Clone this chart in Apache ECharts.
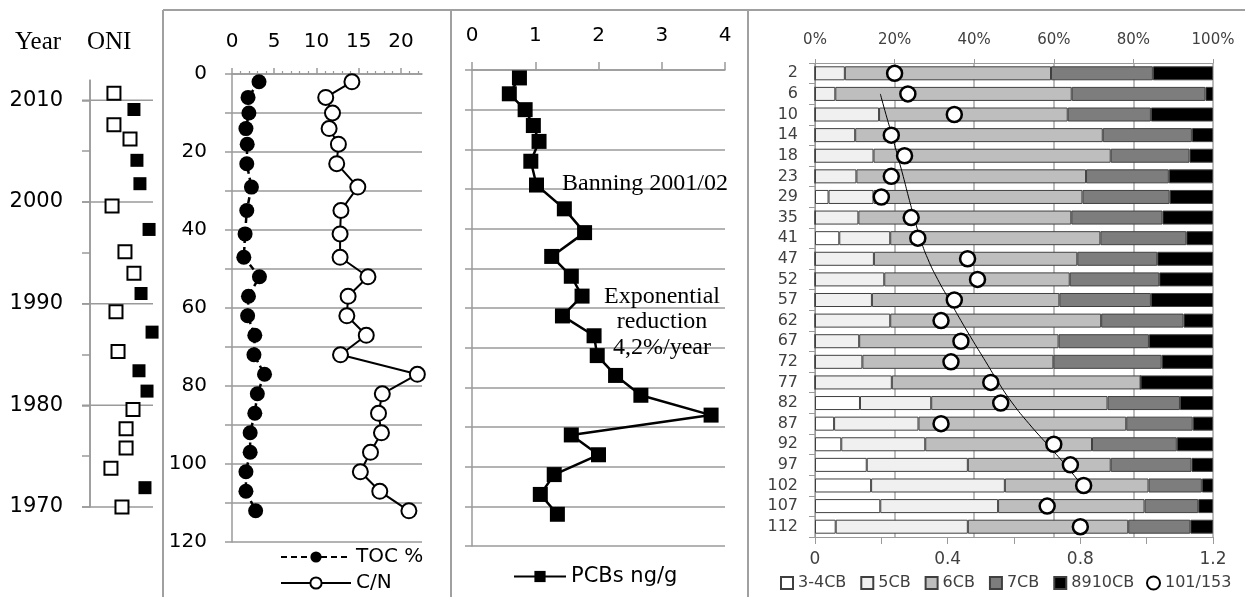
<!DOCTYPE html>
<html><head><meta charset="utf-8">
<script src="https://cdn.jsdelivr.net/npm/echarts@6/dist/echarts.min.js"></script>
<style>html,body{margin:0;padding:0;background:#fff}#c{width:1245px;height:597px}</style>
</head><body><div id="c"></div>
<script>
// ---------- DATA ----------
// ONI panel (year vs index position)
const oniOpenYears   = [2010.7, 2007.6, 2006.2, 1999.6, 1995.1, 1993.0, 1989.2, 1985.3, 1979.6, 1977.7, 1975.8, 1973.8, 1970.0];
const oniOpenValues  = [-0.48, -0.48, 0.54, -0.60, 0.22, 0.79, -0.35, -0.22, 0.73, 0.29, 0.29, -0.67, 0.03];
const oniFilledYears = [2009.1, 2004.1, 2001.8, 1997.3, 1991.0, 1987.2, 1983.4, 1981.4, 1971.9];
const oniFilledValues= [0.79, 0.98, 1.17, 1.75, 1.24, 1.94, 1.11, 1.62, 1.49];
const yearMajor = [1970, 1980, 1990, 2000, 2010];
const yearMinorTicks = [1970, 1975, 1980, 1985, 1990, 1995, 2000, 2005, 2010];

// Depth profiles (cm)
const depths = [2, 6, 10, 14, 18, 23, 29, 35, 41, 47, 52, 57, 62, 67, 72, 77, 82, 87, 92, 97, 102, 107, 112];
const tocPct = [3.2, 1.9, 2.0, 1.65, 1.8, 1.75, 2.3, 1.75, 1.55, 1.4, 3.25, 1.95, 1.85, 2.7, 2.6, 3.85, 3.0, 2.7, 2.15, 2.15, 1.65, 1.65, 2.8];
const cnRatio = [14.2, 11.1, 11.9, 11.5, 12.6, 12.4, 14.9, 12.9, 12.8, 12.8, 16.1, 13.75, 13.6, 15.9, 12.85, 21.95, 17.8, 17.35, 17.7, 16.4, 15.2, 17.5, 20.95];
const pcbNg = [0.75, 0.59, 0.84, 0.97, 1.06, 0.93, 1.02, 1.46, 1.78, 1.26, 1.57, 1.74, 1.43, 1.93, 1.98, 2.27, 2.67, 3.78, 1.57, 2.0, 1.3, 1.08, 1.35];
const depthTicks = [0, 10, 20, 30, 40, 50, 60, 70, 80, 90, 100, 110, 120];
const tocAxisLabels = [0, 5, 10, 15, 20];

// Congener composition (% of total) per depth
const barCats = ['2','6','10','14','18','23','29','35','41','47','52','57','62','67','72','77','82','87','92','97','102','107','112'];
const cb34   = [0, 0, 0, 0, 0, 0, 3.4, 0, 6.1, 0, 0, 0, 0, 0, 0, 0, 11.3, 4.8, 6.6, 13.0, 14.1, 16.4, 5.2];
const cb5    = [7.5, 5.1, 16.1, 10.1, 14.7, 10.4, 11.3, 10.9, 12.8, 14.8, 17.4, 14.3, 18.9, 11.1, 11.9, 19.3, 17.9, 21.2, 21.1, 25.4, 33.6, 29.6, 33.2];
const cb6    = [51.8, 59.4, 47.4, 62.2, 59.6, 57.7, 52.5, 53.5, 52.8, 51.1, 46.6, 47.1, 53.0, 50.1, 48.0, 62.5, 44.3, 52.2, 41.9, 35.9, 36.1, 36.8, 40.3];
const cb7    = [25.6, 33.6, 20.9, 22.4, 19.8, 20.8, 21.9, 22.9, 21.6, 20.1, 22.5, 23.0, 20.7, 22.7, 27.2, 0, 18.2, 16.7, 21.3, 20.3, 13.4, 13.5, 15.6];
const cb8910 = [15.1, 1.9, 15.6, 5.3, 5.9, 11.1, 10.9, 12.7, 6.7, 14.0, 13.5, 15.6, 7.4, 16.1, 12.9, 18.2, 8.3, 5.1, 9.1, 5.4, 2.8, 3.7, 5.7];
const ratio101_153 = [0.24, 0.28, 0.42, 0.23, 0.27, 0.23, 0.20, 0.29, 0.31, 0.46, 0.49, 0.42, 0.38, 0.44, 0.41, 0.53, 0.56, 0.38, 0.72, 0.77, 0.81, 0.70, 0.80];
// trend line (categories 6 .. 102)
const trendCats = ['6','10','14','18','23','29','35','41','47','52','57','62','67','72','77','82','87','92','97','102'];
const trendValues = [0.197, 0.214, 0.232, 0.249, 0.266, 0.282, 0.299, 0.317, 0.340, 0.370, 0.405, 0.440, 0.477, 0.515, 0.553, 0.595, 0.645, 0.700, 0.755, 0.805];
const ratioTicks = [0, 0.2, 0.4, 0.6, 0.8, 1, 1.2];

// ---------- STYLE ----------
const SANS = 'DejaVu Sans';
const GC = '#9a9a9a';
const ONI_GRID = { left: 90, top: 80, width: 63, height: 427 };
const YEAR_MIN = 1970, YEAR_MAX = 2012;
const line = (w) => ({ color: GC, width: w || 1.5 });
const zip = (a, b) => a.map((v, i) => [v, b[i]]);
const txt = (s, x, y, font, align) => ({ type: 'text', x: x, y: y, z: 50,
  style: { text: s, font: font, fill: '#000', align: align, verticalAlign: 'middle', textAlign: align, textVerticalAlign: 'middle' } });
const gline = (x1, y1, x2, y2, c, w) => ({ type: 'line', z: 20, silent: true,
  shape: { x1: x1, y1: y1, x2: x2, y2: y2 }, style: { stroke: c, lineWidth: w } });

const chart = echarts.init(document.getElementById('c'), null, { renderer: 'canvas' });
chart.setOption({
  animation: false,
  backgroundColor: '#fff',
  textStyle: { fontFamily: SANS },
  grid: [
    Object.assign({ outerBoundsMode: 'none' }, ONI_GRID),
    { left: 232, top: 74, width: 190, height: 468, outerBoundsMode: 'none' },
    { left: 472, top: 70, width: 253, height: 476, outerBoundsMode: 'none' },
    { left: 815, top: 63, width: 398, height: 474, outerBoundsMode: 'none' }
  ],
  xAxis: [
    { gridIndex: 0, type: 'value', min: -2, max: 2, show: false },
    { gridIndex: 1, type: 'value', position: 'top', min: 0, max: 22.5, interval: 5,
      axisLine: { show: true, onZero: false, lineStyle: line() },
      axisTick: { show: true, inside: false, length: 6, customValues: tocAxisLabels, lineStyle: line() },
      minorTick: { show: true, splitNumber: 5, length: 3, lineStyle: line(1.2) },
      axisLabel: { customValues: tocAxisLabels, margin: 22, fontFamily: SANS, fontSize: 20, color: '#000' },
      splitLine: { show: false } },
    { gridIndex: 2, type: 'value', position: 'top', min: 0, max: 4, interval: 1,
      axisLine: { show: true, onZero: false, lineStyle: line() },
      axisTick: { show: true, inside: false, length: 8, lineStyle: line() },
      axisLabel: { margin: 24, fontFamily: SANS, fontSize: 20, color: '#000' },
      splitLine: { show: false } },
    { gridIndex: 3, type: 'value', position: 'top', min: 0, max: 100, interval: 20,
      axisLine: { show: true, onZero: false, lineStyle: line(1) },
      axisTick: { show: true, length: 4, lineStyle: line(1) },
      axisLabel: { formatter: '{value}%', margin: 15, fontFamily: SANS, fontSize: 15, color: '#404040' },
      splitLine: { show: true, lineStyle: { color: '#a6a6a6', width: 1.5 } } },
    { gridIndex: 3, type: 'value', position: 'bottom', min: 0, max: 1.2, interval: 0.4,
      axisLine: { show: true, onZero: false, lineStyle: line(1) },
      axisTick: { show: true, length: 7, customValues: ratioTicks, lineStyle: line(1) },
      axisLabel: { margin: 14, fontFamily: SANS, fontSize: 17, color: '#404040' },
      splitLine: { show: false } }
  ],
  yAxis: [
    { gridIndex: 0, type: 'value', min: YEAR_MIN, max: YEAR_MAX, interval: 10,
      axisLine: { show: true, onZero: false, lineStyle: line() },
      axisTick: { show: true, length: 8, customValues: yearMinorTicks, lineStyle: line() },
      axisLabel: { formatter: (v) => (v % 10 === 0 ? String(v) : ''), margin: 27, fontFamily: SANS, fontSize: 21, color: '#000' },
      splitLine: { show: false } },
    { gridIndex: 1, type: 'value', inverse: true, min: 0, max: 120, interval: 20,
      axisLine: { show: true, onZero: false, lineStyle: line() },
      axisTick: { show: true, length: 7, customValues: depthTicks, lineStyle: line() },
      axisLabel: { margin: 25, fontFamily: SANS, fontSize: 20, color: '#000' },
      splitLine: { show: true, lineStyle: line() } },
    { gridIndex: 2, type: 'value', inverse: true, min: 0, max: 120, interval: 20,
      axisLine: { show: true, onZero: false, lineStyle: line() },
      axisTick: { show: true, length: 7, customValues: depthTicks, lineStyle: line() },
      axisLabel: { show: false },
      splitLine: { show: true, lineStyle: line() } },
    { gridIndex: 3, type: 'category', data: barCats, inverse: true,
      axisLine: { show: true, onZero: false, lineStyle: line(1) },
      axisTick: { show: true, length: 6, lineStyle: line(1) },
      axisLabel: { interval: 0, margin: 17, fontFamily: SANS, fontSize: 16, color: '#404040' },
      splitLine: { show: false } }
  ],
  legend: [
    { data: ['TOC %', 'C/N'], orient: 'vertical', left: 280, top: 547, padding: 0, itemWidth: 70, itemHeight: 14, itemGap: 6,
      selectedMode: false, textStyle: { fontFamily: SANS, fontSize: 20, color: '#000' } },
    { data: ['PCBs ng/g'], left: 513, top: 566, padding: 0, itemWidth: 52, itemHeight: 14, selectedMode: false,
      textStyle: { fontFamily: SANS, fontSize: 21, color: '#000' } },
    { data: ['3-4CB', '5CB', '6CB', '7CB', '8910CB'], left: 780, top: 575, padding: 0, itemWidth: 12, itemHeight: 12, itemGap: 14,
      icon: 'rect', selectedMode: false, textStyle: { fontFamily: SANS, fontSize: 16, color: '#404040' } },
    { data: ['101/153'], left: 1146, top: 575, padding: 0, itemWidth: 13, itemHeight: 13, icon: 'circle', selectedMode: false,
      textStyle: { fontFamily: SANS, fontSize: 16, color: '#404040' } }
  ],
  series: [
    { type: 'scatter', xAxisIndex: 0, yAxisIndex: 0, symbol: 'rect', symbolSize: 13, z: 30,
      data: zip(oniOpenValues, oniOpenYears),
      itemStyle: { color: '#fff', borderColor: '#000', borderWidth: 2, opacity: 1 } },
    { type: 'scatter', xAxisIndex: 0, yAxisIndex: 0, symbol: 'rect', symbolSize: 13, z: 30,
      data: zip(oniFilledValues, oniFilledYears),
      itemStyle: { color: '#000', borderColor: '#000', borderWidth: 0, opacity: 1 } },
    { name: 'TOC %', type: 'line', xAxisIndex: 1, yAxisIndex: 1, data: zip(tocPct, depths),
      symbol: 'circle', symbolSize: 15, showAllSymbol: true,
      itemStyle: { color: '#000', borderColor: '#000', borderWidth: 0, opacity: 1 },
      lineStyle: { color: '#000', width: 2.5, type: [6, 4] } },
    { name: 'C/N', type: 'line', xAxisIndex: 1, yAxisIndex: 1, data: zip(cnRatio, depths),
      symbol: 'circle', symbolSize: 15, showAllSymbol: true,
      itemStyle: { color: '#fff', borderColor: '#000', borderWidth: 2, opacity: 1 },
      lineStyle: { color: '#000', width: 2 } },
    { name: 'PCBs ng/g', type: 'line', xAxisIndex: 2, yAxisIndex: 2, data: zip(pcbNg, depths),
      symbol: 'rect', symbolSize: 15, showAllSymbol: true,
      itemStyle: { color: '#000', borderColor: '#000', borderWidth: 0, opacity: 1 },
      lineStyle: { color: '#000', width: 2.5 } },
    { name: '3-4CB', type: 'bar', stack: 'pct', xAxisIndex: 3, yAxisIndex: 3, barCategoryGap: '32%', data: cb34, z: 2,
      itemStyle: { color: '#ffffff', borderColor: '#404040', borderWidth: 1 } },
    { name: '5CB', type: 'bar', stack: 'pct', xAxisIndex: 3, yAxisIndex: 3, barCategoryGap: '32%', data: cb5, z: 2,
      itemStyle: { color: '#f0f0f0', borderColor: '#404040', borderWidth: 1 } },
    { name: '6CB', type: 'bar', stack: 'pct', xAxisIndex: 3, yAxisIndex: 3, barCategoryGap: '32%', data: cb6, z: 2,
      itemStyle: { color: '#bebebe', borderColor: '#404040', borderWidth: 1 } },
    { name: '7CB', type: 'bar', stack: 'pct', xAxisIndex: 3, yAxisIndex: 3, barCategoryGap: '32%', data: cb7, z: 2,
      itemStyle: { color: '#7d7d7d', borderColor: '#404040', borderWidth: 1 } },
    { name: '8910CB', type: 'bar', stack: 'pct', xAxisIndex: 3, yAxisIndex: 3, barCategoryGap: '32%', data: cb8910, z: 2,
      itemStyle: { color: '#000000', borderColor: '#404040', borderWidth: 1 } },
    { type: 'line', xAxisIndex: 4, yAxisIndex: 3, data: zip(trendValues, trendCats), symbol: 'none', smooth: true, z: 3,
      lineStyle: { color: '#000', width: 1 } },
    { name: '101/153', type: 'scatter', xAxisIndex: 4, yAxisIndex: 3, data: zip(ratio101_153, barCats),
      symbol: 'circle', symbolSize: 15, z: 4,
      itemStyle: { color: '#fff', borderColor: '#000', borderWidth: 2.5, opacity: 1 } }
  ]
});

// ONI year-axis guide lines (grid lines + axis line) through the year axis scale
const yearPx = (yr) => {
  let p;
  try { p = chart.convertToPixel({ yAxisIndex: 0 }, yr); } catch (e) { p = NaN; }
  if (Array.isArray(p)) p = p[1];
  const fallback = ONI_GRID.top + (YEAR_MAX - yr) / (YEAR_MAX - YEAR_MIN) * ONI_GRID.height;
  if (!isFinite(p) || Math.abs(p - fallback) > 3) p = fallback;
  return p;
};
const gx0 = ONI_GRID.left, gx1 = ONI_GRID.left + ONI_GRID.width;
const guides = yearMajor.map((yr) => gline(gx0 - 8, yearPx(yr), gx1, yearPx(yr), GC, 1.5));
guides.push(gline(gx0, yearPx(YEAR_MAX), gx0, yearPx(YEAR_MIN), GC, 1.5));

chart.setOption({
  graphic: guides.concat([
    gline(163, 10, 1245, 10, '#a0a0a0', 2),
    gline(163, 10, 163, 597, '#a0a0a0', 2),
    gline(451, 10, 451, 597, '#a0a0a0', 2),
    gline(748, 10, 748, 597, '#a0a0a0', 2),
    txt('Year', 15, 42, '25px "Liberation Serif"', 'left'),
    txt('ONI', 87, 42, '25px "Liberation Serif"', 'left'),
    txt('Banning 2001/02', 562, 184, '24px "Liberation Serif"', 'left'),
    txt('Exponential', 662, 297, '24px "Liberation Serif"', 'center'),
    txt('reduction', 662, 322, '24px "Liberation Serif"', 'center'),
    txt('4,2%/year', 662, 348, '24px "Liberation Serif"', 'center')
  ])
});
</script>
</body></html>
